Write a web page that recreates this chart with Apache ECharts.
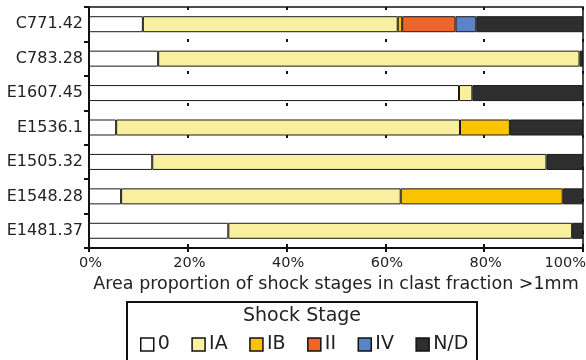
<!DOCTYPE html>
<html>
<head>
<meta charset="utf-8">
<script src="https://cdn.jsdelivr.net/npm/echarts@6/dist/echarts.min.js"></script>
<style>html,body{margin:0;padding:0;background:#fff}#c{width:586px;height:360px}</style>
</head>
<body>
<div id="c"></div>
<script>
const categories = ['C771.42','C783.28','E1607.45','E1536.1','E1505.32','E1548.28','E1481.37'];
const stageNames = ['0','IA','IB','II','IV','N/D'];
const stage0  = [10.9, 14.0, 74.9, 5.5, 12.8, 6.5, 28.2];
const stageIA = [51.6, 85.3, 2.7, 69.6, 79.8, 56.6, 69.6];
const stageIB = [0.9, 0, 0, 10.1, 0, 32.8, 0];
const stageII = [10.8, 0, 0, 0, 0, 0, 0];
const stageIV = [4.2, 0, 0, 0, 0, 0, 0];
const stageND = [21.6, 0.7, 22.4, 14.8, 7.4, 4.1, 2.2];
const xTicks = [0, 20, 40, 60, 80, 100];
const colors = ['#ffffff', '#f8f09e', '#fcc400', '#ef6428', '#5b83c6', '#2e2e2e'];
const seriesValues = [stage0, stageIA, stageIB, stageII, stageIV, stageND];

const FONT = '"DejaVu Sans", sans-serif';
const chart = echarts.init(document.getElementById('c'));
chart.setOption({
  animation: false,
  textStyle: { fontFamily: FONT },
  grid: { left: 89, right: 3, top: 7, bottom: 112, show: true, borderColor: '#111', borderWidth: 1.5, outerBoundsMode: 'none', containLabel: false },
  xAxis: [{
    type: 'value', min: xTicks[0], max: xTicks[xTicks.length - 1], interval: 20,
    axisLine: { show: true, lineStyle: { color: '#111', width: 2 } },
    axisTick: { show: true, length: 4, lineStyle: { color: '#111', width: 2 } },
    axisLabel: { formatter: '{value}%', color: '#222', fontSize: 14.5, margin: 8, fontFamily: FONT, alignMaxLabel: 'right', padding: [0, -3, 0, 0] },
    splitLine: { show: true, lineStyle: { color: '#111', width: 2, type: [3, 29] } },
    name: 'Area proportion of shock stages in clast fraction >1mm',
    nameLocation: 'middle', nameGap: 25,
    nameTextStyle: { fontSize: 17.5, color: '#222', fontFamily: FONT, verticalAlign: 'top' }
  }, {
    type: 'value', min: 0, max: 100, interval: 20, position: 'bottom',
    axisLine: { show: false },
    axisTick: { show: true, inside: true, length: 4, lineStyle: { color: '#111', width: 2 } },
    axisLabel: { show: false }, splitLine: { show: false }
  }],
  yAxis: {
    type: 'category', data: categories, inverse: true,
    axisLine: { show: true, lineStyle: { color: '#111', width: 2 } },
    axisTick: { show: true, length: 5, lineStyle: { color: '#111', width: 2 } },
    axisLabel: { color: '#222', fontSize: 16, margin: 6, fontFamily: FONT }
  },
  legend: {
    data: stageNames, top: 331, left: 136, itemGap: 21.5, padding: 4,
    itemWidth: 13, itemHeight: 13, icon: 'rect',
    textStyle: { fontSize: 19, color: '#222', fontFamily: FONT, padding: [0, 0, 0, -1] },
    itemStyle: { borderColor: '#111', borderWidth: 1.5 }
  },
  graphic: [
    { type: 'rect', shape: { x: 127, y: 302, width: 350, height: 70 }, style: { fill: 'none', stroke: '#111', lineWidth: 2 }, silent: true },
    { type: 'text', x: 302, y: 316, style: { text: 'Shock Stage', fontSize: 19, fill: '#222', fontFamily: FONT, align: 'center', verticalAlign: 'middle' } }
  ],
  series: stageNames.map((n, i) => ({
    name: n, type: 'bar', stack: 'total', barWidth: 16,
    itemStyle: { color: colors[i], borderColor: '#1a1a1a', borderWidth: 1 },
    data: seriesValues[i].map(v => v === 0 ? '-' : v)
  }))
});
</script>
</body>
</html>
